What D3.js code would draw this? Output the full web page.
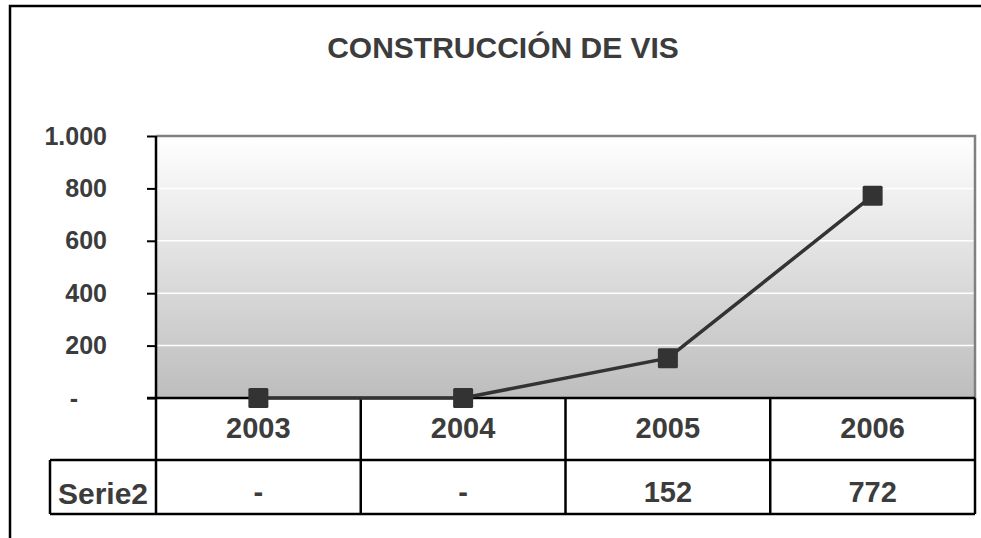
<!DOCTYPE html>
<html>
<head>
<meta charset="utf-8">
<script src="https://cdn.jsdelivr.net/npm/d3@7"></script>
<style>
  body { margin: 0; background: #fff; }
  text { font-family: 'Liberation Sans', Arial, sans-serif; font-weight: bold; fill: #3c3c3c; }
</style>
</head>
<body>
<svg width="981" height="538"></svg>
<script>
/* global d3 */
var title = 'CONSTRUCCIÓN DE VIS'
var seriesName = 'Serie2'
var years = ['2003', '2004', '2005', '2006']
var values = [0, 0, 152, 772]
var valueLabels = ['-', '-', '152', '772']
var yTicks = [0, 200, 400, 600, 800, 1000]

var svg = d3.select('svg')

var plotLeft = 156
var plotRight = 975
var plotTop = 136
var plotBottom = 398
var headerBottom = 460
var tableBottom = 514
var labelCellLeft = 50

var x = d3.scaleBand().domain(years).range([plotLeft, plotRight])
var y = d3.scaleLinear().domain([0, 1000]).range([plotBottom, plotTop])

var fmt = d3.formatLocale({ decimal: ',', thousands: '.', grouping: [3], currency: ['$', ''] }).format(',')

// background gradient
var grad = svg.append('defs').append('linearGradient')
    .attr('id', 'bg')
    .attr('x1', 0).attr('y1', 0).attr('x2', 0).attr('y2', 1)
grad.append('stop').attr('offset', '0%').attr('stop-color', '#ffffff')
grad.append('stop').attr('offset', '100%').attr('stop-color', '#bdbdbd')

svg.append('rect')
    .attr('x', plotLeft)
    .attr('y', y(1000))
    .attr('width', plotRight - plotLeft)
    .attr('height', y(0) - y(1000))
    .attr('fill', 'url(#bg)')

// white gridlines
svg.append('g')
  .selectAll('line')
  .data(yTicks.filter(d => d > 0 && d < 1000))
  .enter().append('line')
    .attr('x1', plotLeft).attr('x2', plotRight)
    .attr('y1', d => y(d)).attr('y2', d => y(d))
    .attr('stroke', '#ffffff')
    .attr('stroke-width', 1.5)

// gray plot border (top, right)
svg.append('path')
    .attr('d', 'M' + plotLeft + ',' + y(1000) + 'H' + plotRight + 'V' + y(0))
    .attr('fill', 'none')
    .attr('stroke', '#808080')
    .attr('stroke-width', 2.5)

// outer chart frame
svg.append('path')
    .attr('d', 'M10,545V6H990')
    .attr('fill', 'none')
    .attr('stroke', '#000')
    .attr('stroke-width', 2.5)

// y axis
var yAxis = svg.append('g')
    .attr('transform', 'translate(' + plotLeft + ',0)')
    .call(d3.axisLeft(y)
      .tickValues(yTicks)
      .tickSize(9)
      .tickPadding(40)
      .tickFormat(d => d === 0 ? '-' : fmt(d)))
yAxis.select('.domain').remove()
yAxis.selectAll('.tick line').attr('stroke', '#000').attr('stroke-width', 2)
yAxis.selectAll('.tick text')
    .style('font-size', '25px')
    .style('font-family', "'Liberation Sans', Arial, sans-serif")
    .style('font-weight', 'bold')
    .attr('fill', '#3c3c3c')
yAxis.selectAll('.tick')
  .filter(d => d === 0)
  .select('text')
    .attr('x', 74 - plotLeft)
    .attr('text-anchor', 'middle')

// table grid
var table = svg.append('g')
    .attr('stroke', '#000')
    .attr('stroke-width', 2.5)
    .attr('fill', 'none')
table.append('line')
    .attr('x1', plotLeft).attr('x2', plotLeft)
    .attr('y1', y(1000)).attr('y2', tableBottom)
table.append('line')
    .attr('x1', plotLeft - 9).attr('x2', plotRight)
    .attr('y1', y(0)).attr('y2', y(0))
table.append('line')
    .attr('x1', labelCellLeft).attr('x2', plotRight)
    .attr('y1', headerBottom).attr('y2', headerBottom)
table.append('line')
    .attr('x1', labelCellLeft).attr('x2', plotRight)
    .attr('y1', tableBottom).attr('y2', tableBottom)
table.append('line')
    .attr('x1', labelCellLeft).attr('x2', labelCellLeft)
    .attr('y1', headerBottom).attr('y2', tableBottom)
table.selectAll('line.col')
  .data(years.slice(1))
  .enter().append('line')
    .attr('class', 'col')
    .attr('x1', d => x(d)).attr('x2', d => x(d))
    .attr('y1', y(0)).attr('y2', tableBottom)
table.append('line')
    .attr('x1', plotRight).attr('x2', plotRight)
    .attr('y1', y(0)).attr('y2', tableBottom)

// series line + markers
var pts = years.map((yr, i) => ({ year: yr, value: values[i] }))
svg.append('path')
    .datum(pts)
    .attr('fill', 'none')
    .attr('stroke', '#333333')
    .attr('stroke-width', 3.5)
    .attr('d', d3.line()
      .x(d => x(d.year) + x.bandwidth() / 2)
      .y(d => y(d.value)))

svg.append('g')
  .selectAll('rect')
  .data(pts)
  .enter().append('rect')
    .attr('x', d => x(d.year) + x.bandwidth() / 2 - 10)
    .attr('y', d => y(d.value) - 10)
    .attr('width', 20)
    .attr('height', 20)
    .attr('rx', 1.5)
    .attr('fill', '#333333')

// title
svg.append('text')
    .attr('x', 503)
    .attr('y', 58)
    .attr('text-anchor', 'middle')
    .style('font-size', '30px')
    .text(title)

// header row (years)
svg.append('g')
  .selectAll('text')
  .data(years)
  .enter().append('text')
    .attr('x', d => x(d) + x.bandwidth() / 2)
    .attr('y', 438)
    .attr('text-anchor', 'middle')
    .style('font-size', '29px')
    .text(d => d)

// data row
svg.append('text')
    .attr('x', (labelCellLeft + plotLeft) / 2)
    .attr('y', 504)
    .attr('text-anchor', 'middle')
    .style('font-size', '30px')
    .text(seriesName)

svg.append('g')
  .selectAll('text')
  .data(years)
  .enter().append('text')
    .attr('x', d => x(d) + x.bandwidth() / 2)
    .attr('y', 502)
    .attr('text-anchor', 'middle')
    .style('font-size', '29px')
    .text((d, i) => valueLabels[i])
</script>
</body>
</html>
